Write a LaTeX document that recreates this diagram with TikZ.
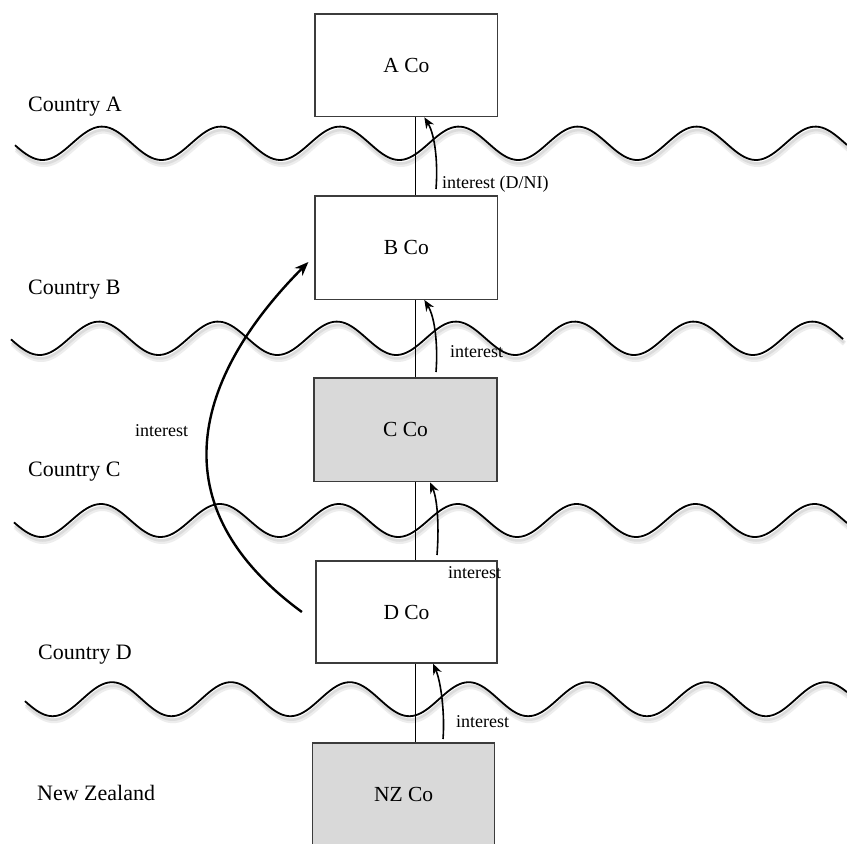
\documentclass[tikz,border=0pt]{standalone}
\usepackage{fontspec}
\setmainfont{Liberation Serif}
\usetikzlibrary{arrows.meta,calc}
\definecolor{boxgray}{RGB}{217,217,217}
\definecolor{edgegray}{RGB}{60,60,60}
\begin{document}
\begin{tikzpicture}[x=1pt,y=-1pt,
  cobox/.style={draw=edgegray, line width=1.2pt, fill=white, inner sep=0pt, font=\fontsize{21.5}{24}\selectfont},
  shadedbox/.style={cobox, fill=boxgray},
  country/.style={anchor=base west, inner sep=0pt, font=\fontsize{22}{26}\selectfont},
  flowlbl/.style={anchor=base west, inner sep=0pt, font=\fontsize{18}{22}\selectfont},
  wave/.style={line width=1.8pt, black},
  waveshadowA/.style={line width=5pt, black!7},
  waveshadowB/.style={line width=2.5pt, black!14},
  link/.style={line width=1.5pt},
  flowarrow/.style={line width=1.6pt, -{Stealth[length=11pt,width=9pt]}},
  bigarrow/.style={line width=2.4pt, -{Stealth[length=14pt,width=11pt]}}]
\useasboundingbox (0,0) rectangle (847,844);
\fill[white] (0,0) rectangle (847,844);
% border waves: start / end / centre / amplitude / peak x
\foreach \s/\e/\c/\a/\p in {15/847/143.3/16.7/102, 11/843/338.3/16.7/99, 14/847/520.5/16.5/101, 25/847/699.2/17/112}{
  \draw[waveshadowA] plot[domain=\s:\e, samples=300] ({\x+1.5}, {\c+4.5 - \a*cos(((\x-\p)/118.9)*360)});
  \draw[waveshadowB] plot[domain=\s:\e, samples=300] ({\x+1}, {\c+3.5 - \a*cos(((\x-\p)/118.9)*360)});
  \draw[wave] plot[domain=\s:\e, samples=300] (\x, {\c - \a*cos(((\x-\p)/118.9)*360)});
}
% companies
\node[cobox, minimum width=182.7pt, minimum height=102.7pt] (A) at (406.35,65.35) {A Co};
\node[cobox, minimum width=182.7pt, minimum height=103.3pt] (B) at (406.35,247.65) {B Co};
\node[shadedbox, minimum width=183pt, minimum height=103.7pt] (C) at (405.5,429.85) {C Co};
\node[cobox, minimum width=181pt, minimum height=102pt] (D) at (406.5,612) {D Co};
\node[shadedbox, minimum width=182pt, minimum height=103pt] (NZ) at (403.6,794.5) {NZ Co};
% ownership line
\coordinate (lx) at (415.7,0);
\draw[link] (A.south -| lx) -- (B.north -| lx);
\draw[link] (B.south -| lx) -- (C.north -| lx);
\draw[link] (C.south -| lx) -- (D.north -| lx);
\draw[link] (D.south -| lx) -- (NZ.north -| lx);
% country labels
\node[country] (lA) at (28,111.7) {Country A};
\node[country] (lB) at (28,294.3) {Country B};
\node[country] (lC) at (28,476.3) {Country C};
\node[country] (lD) at (38,659) {Country D};
\node[country] (lNZ) at (37,800.3) {New Zealand};
% interest flows
\coordinate (sA) at (436,189);
\coordinate (sB) at (436,372);
\coordinate (sC) at (437,555);
\coordinate (sD) at (443,739);
\coordinate (tA) at ($(A.south)+(18,0)$);
\coordinate (tB) at ($(B.south)+(18,0)$);
\coordinate (tC) at ($(C.south)+(24.5,0)$);
\coordinate (tD) at ($(D.south)+(26.5,0)$);
\draw[flowarrow] (sA) .. controls ($(sA)+(2,-25)$) and ($(tA)+(11,18)$) .. (tA);
\draw[flowarrow] (sB) .. controls ($(sB)+(2,-25)$) and ($(tB)+(11,18)$) .. (tB);
\draw[flowarrow] (sC) .. controls ($(sC)+(2,-25)$) and ($(tC)+(8,18)$) .. (tC);
\draw[flowarrow] (sD) .. controls ($(sD)+(2,-25)$) and ($(tD)+(8,18)$) .. (tD);
\node[flowlbl] (iA) at (442,188.5) {interest (D/NI)};
\node[flowlbl] (iB) at (450,357) {interest};
\node[flowlbl] (iC) at (448,578) {interest};
\node[flowlbl] (iD) at (456,727) {interest};
% direct interest D -> B
\coordinate (sBig) at ($(D.west)+(-13.5,0)$);
\coordinate (tBig) at ($(B.west)+(-6,14.35)$);
\draw[bigarrow] (sBig) .. controls (149,500) and (203,368) .. (tBig);
\node[flowlbl] (iBig) at (135,436) {interest};
\end{tikzpicture}
\end{document}
